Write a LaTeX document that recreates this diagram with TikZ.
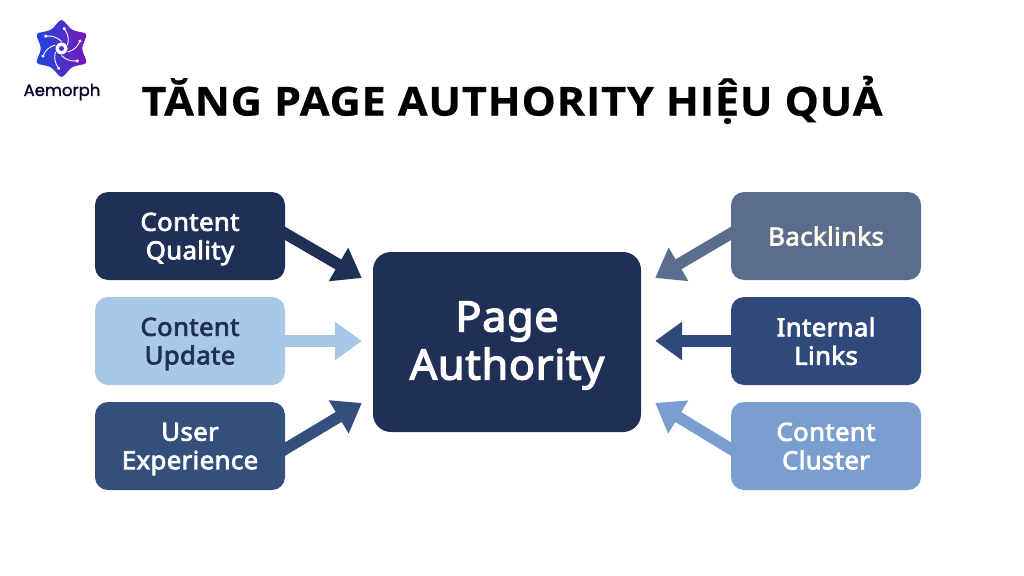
\documentclass[tikz,border=0pt]{standalone}
\usepackage{fontspec}
\setmainfont[LetterSpace=1.5,FakeBold=3,FakeStretch=1.03]{Noto Sans}
\newfontfamily\titlefont[LetterSpace=2.0,FakeBold=0.5,FakeStretch=1.08]{Open Sans Bold}
\newfontfamily\brandfont[FakeBold=1.2]{Poppins}
\usetikzlibrary{arrows.meta,calc}
\definecolor{navy}{HTML}{1F2F56}
\definecolor{paleblue}{HTML}{A9C8E8}
\definecolor{midnavy}{HTML}{344F7C}
\definecolor{slate}{HTML}{5C6C8E}
\definecolor{royal}{HTML}{30497A}
\definecolor{steel}{HTML}{7A9FCF}
\definecolor{logoblue}{HTML}{1D48E0}
\definecolor{logopurple}{HTML}{7A16B8}
\pgfdeclarelayer{links}
\pgfsetlayers{links,main}
\tikzset{
  box/.style={rounded corners=13pt,minimum width=190pt,minimum height=88pt,inner sep=0pt,align=center,font=\fontsize{25}{28.5}\selectfont,text=white,text depth=0pt},
  link/.style={line width=11.5pt,-{Triangle[length=27pt,width=37pt]}}
}
\begin{document}
\begin{tikzpicture}[x=1pt,y=-1pt]
\useasboundingbox (0,0) rectangle (1024,575);
% logo
\begin{scope}[shift={(61.5,48.5)}]
\shade[left color=logoblue,right color=logopurple,rounded corners=3.5pt]
  (90:30) -- (60:21) -- (30:30) -- (0:20) -- (-30:30) -- (-60:21) -- (-90:30) -- (-120:21) -- (-150:30) -- (180:20) -- (150:30) -- (120:21) -- cycle;
\foreach \a in {0,60,...,300}{
  \draw[white,line width=0.9pt,rotate=\a] (90:7) .. controls (70:12) and (55:16) .. (38:20);
  \fill[white,rotate=\a] (38:20) circle (1.7pt);
}
\fill[white] (0,0) circle (6pt);
\fill[logoblue!70!logopurple] (0,0) circle (2.5pt);
\end{scope}
\node[font=\brandfont\fontsize{16.5}{20}\selectfont,text=black!85!blue,inner sep=0pt] (brand) at (62,92) {Aemorph};
\node[font=\titlefont\fontsize{40}{50}\selectfont,text=black,inner sep=0pt,anchor=base] (title) at (512,115.6) {TĂNG PAGE AUTHORITY HIỆU QUẢ};
% boxes
\node[box,fill=navy] (cq) at (190,236) {Content\\Quality};
\node[box,fill=paleblue,text=navy] (cu) at (190,341) {Content\\Update};
\node[box,fill=midnavy] (ux) at (190,446) {User\\Experience};
\node[box,fill=slate,text=white!92!yellow] (bl) at (826,236) {Backlinks};
\node[box,fill=royal] (il) at (826,341) {Internal\\Links};
\node[box,fill=steel] (cc) at (826,446) {Content\\Cluster};
\node[box,fill=navy,minimum width=268pt,minimum height=180pt,rounded corners=18pt,font=\fontsize{42}{48}\selectfont,text depth=3pt] (pa) at (507,342) {Page\\Authority};
% connectors
\coordinate (t1) at ($(pa.west)+(-11,-64)$);
\coordinate (t2) at ($(pa.west)+(-11,-1)$);
\coordinate (t3) at ($(pa.west)+(-11,61)$);
\coordinate (t4) at ($(pa.east)+(14,-64)$);
\coordinate (t5) at ($(pa.east)+(14,-1)$);
\coordinate (t6) at ($(pa.east)+(14,61)$);
\coordinate (s1) at ([yshift=2.5pt]cq.east);
\coordinate (s3) at ([yshift=-3pt]ux.east);
\coordinate (s4) at ([yshift=2.5pt]bl.west);
\coordinate (s6) at ([yshift=-3pt]cc.west);
\begin{pgfonlayer}{links}
\draw[link,navy] ($(s1)!-8pt!(t1)$) -- (t1);
\draw[link,paleblue] (cu.east) -- (t2);
\draw[link,midnavy] ($(s3)!-8pt!(t3)$) -- (t3);
\draw[link,slate] ($(s4)!-8pt!(t4)$) -- (t4);
\draw[link,royal] (il.west) -- (t5);
\draw[link,steel] ($(s6)!-8pt!(t6)$) -- (t6);
\end{pgfonlayer}
\end{tikzpicture}
\end{document}
